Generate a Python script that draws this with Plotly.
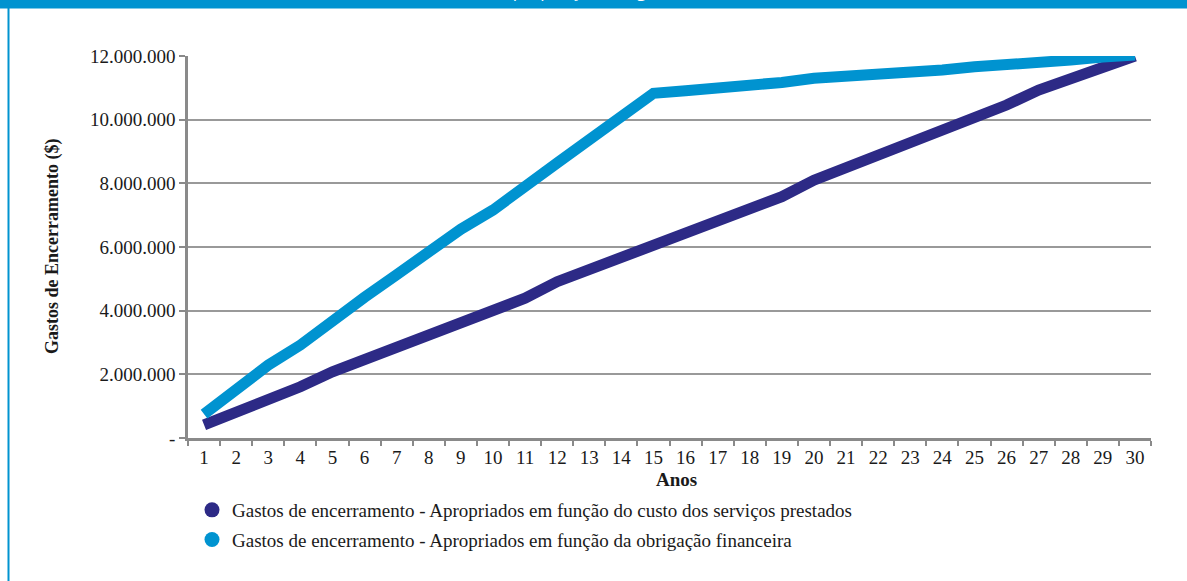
import plotly.graph_objects as go

anos = [str(i) for i in range(1, 31)]

custo_servicos = [0.41, 0.80, 1.20, 1.61, 2.08, 2.47, 2.85, 3.24, 3.62, 4.00,
                  4.39, 4.91, 5.30, 5.70, 6.09, 6.46, 6.83, 7.20, 7.58, 8.10,
                  8.49, 8.89, 9.28, 9.67, 10.07, 10.46, 10.93, 11.30, 11.66, 12.00]
custo_servicos = [v * 1e6 for v in custo_servicos]

obrigacao_fin = [0.75, 1.52, 2.29, 2.92, 3.70, 4.42, 5.13, 5.85, 6.56, 7.16,
                 7.85, 8.64, 9.37, 10.10, 10.83, 10.91, 10.98, 11.12, 11.17, 11.30,
                 11.35, 11.46, 11.51, 11.56, 11.66, 11.71, 11.82, 11.87, 11.97, 12.03]
obrigacao_fin = [v * 1e6 for v in obrigacao_fin]

y_tickvals = [0, 2e6, 4e6, 6e6, 8e6, 10e6, 12e6]
y_ticktext = ["-", "2.000.000", "4.000.000", "6.000.000", "8.000.000", "10.000.000", "12.000.000"]

nome_1 = "Gastos de encerramento - Apropriados em função do custo dos serviços prestados"
nome_2 = "Gastos de encerramento - Apropriados em função da obrigação financeira"

COR_ESCURA = "#2d2a86"
COR_CLARA = "#0093d0"
SERIF = "Liberation Serif"
TXT = "#1a1a1a"
FS = 19

fig = go.Figure()
fig.add_trace(go.Scatter(x=anos, y=custo_servicos, mode="lines", showlegend=False,
                         line=dict(color=COR_ESCURA, width=11), hoverinfo="skip"))
fig.add_trace(go.Scatter(x=anos, y=obrigacao_fin, mode="lines", showlegend=False,
                         line=dict(color=COR_CLARA, width=11), hoverinfo="skip"))
# legend entries (circles)
fig.add_trace(go.Scatter(x=[None], y=[None], mode="markers", name=nome_1, legendgroup="a",
                         marker=dict(color=COR_ESCURA, size=15, symbol="circle")))
fig.add_trace(go.Scatter(x=[None], y=[None], mode="markers", name=nome_2, legendgroup="b",
                         marker=dict(color=COR_CLARA, size=15, symbol="circle")))

W, H = 1187, 581
L, R, T, B = 188, 36, 56, 143
pw, ph = W - L - R, H - T - B

def px(x):
    return (x - L) / pw

def py(y):
    return (H - B - y) / ph

fig.update_layout(
    width=W, height=H,
    margin=dict(l=L, r=R, t=T, b=B),
    paper_bgcolor="white", plot_bgcolor="white",
    font=dict(family=SERIF, size=FS, color=TXT),
    xaxis=dict(type="category", tickson="boundaries", ticks="outside", ticklen=5,
               tickcolor="#8a8a8a", tickwidth=1.5, showgrid=False,
               showline=True, linecolor="#8a8a8a", linewidth=2.5,
               tickfont=dict(family=SERIF, size=FS, color=TXT),
               range=[-0.5, 29.5], fixedrange=True),
    yaxis=dict(range=[0, 12e6], tickvals=y_tickvals, ticktext=y_ticktext,
               ticks="outside", ticklen=6, tickcolor="#8a8a8a", tickwidth=1.5,
               showgrid=True, gridcolor="#999999", gridwidth=1.5,
               showline=True, linecolor="#8a8a8a", linewidth=2.5, zeroline=False,
               tickfont=dict(family=SERIF, size=FS, color=TXT), fixedrange=True),
    legend=dict(x=px(192), y=py(491), xanchor="left", yanchor="top",
                font=dict(family=SERIF, size=FS, color=TXT),
                traceorder="grouped", tracegroupgap=2, itemsizing="trace",
                bgcolor="rgba(0,0,0,0)"),
    showlegend=True,
)

fig.add_annotation(text="<b>Gastos de Encerramento ($)</b>", xref="paper", yref="paper",
                   x=px(52), y=py(247), xanchor="center", yanchor="middle",
                   textangle=-90, showarrow=False,
                   font=dict(family=SERIF, size=18, color=TXT))
fig.add_annotation(text="<b>Anos</b>", xref="paper", yref="paper",
                   x=px(676), y=py(479), xanchor="center", yanchor="middle", showarrow=False,
                   font=dict(family=SERIF, size=FS, color=TXT))

# header bar and left border
fig.add_shape(type="rect", xref="paper", yref="paper",
              x0=px(-5), x1=px(W + 5), y0=py(8.5), y1=py(-5),
              fillcolor=COR_CLARA, line=dict(width=0), layer="above")
fig.add_shape(type="line", xref="paper", yref="paper",
              x0=px(8.5), x1=px(8.5), y0=py(8), y1=py(H + 5),
              line=dict(color=COR_CLARA, width=2))
fig.add_annotation(text="Apropriação dos gastos de encerramento", xref="paper", yref="paper",
                   x=px(500), y=py(4.5), yanchor="bottom", xanchor="left", showarrow=False,
                   font=dict(family="Open Sans", size=17, color="white"))

fig.write_html("out.html")
